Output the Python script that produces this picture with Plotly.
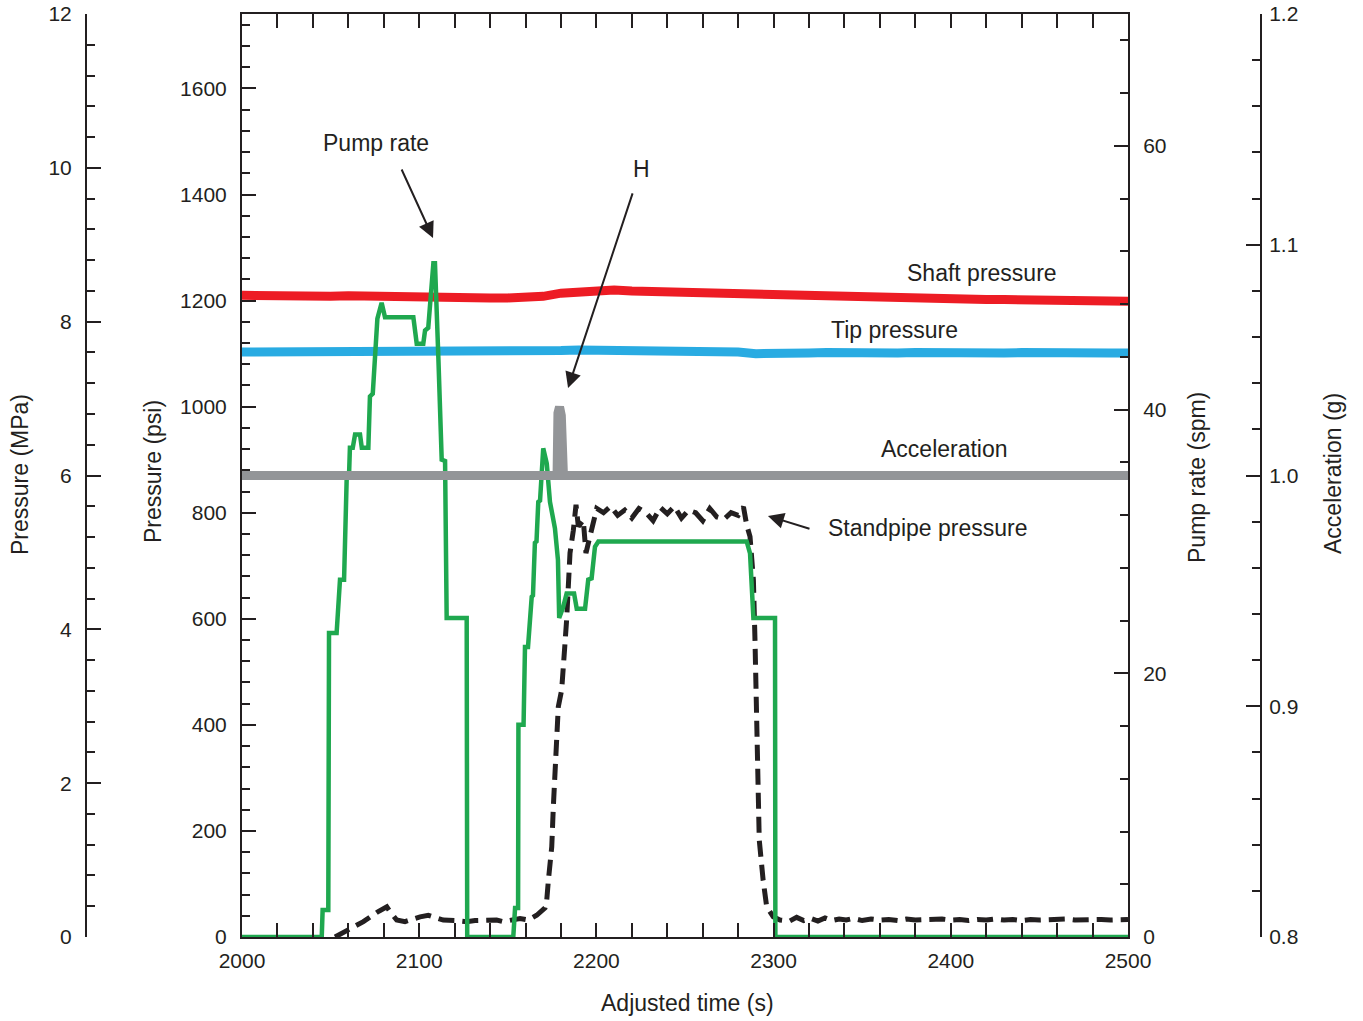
import plotly.graph_objects as go

# ---------------- data ----------------
# Shaft pressure (psi)
shaft_t = list(range(2000, 2501, 10))
shaft_psi = [1210, 1209, 1210, 1209, 1209, 1208, 1209, 1208, 1207, 1207,
             1206, 1206, 1205, 1205, 1205, 1205, 1206, 1208, 1214, 1217,
             1219, 1220, 1218, 1217, 1216, 1215, 1214, 1213, 1212, 1211,
             1210, 1209, 1209, 1208, 1207, 1207, 1206, 1205, 1205, 1204,
             1203, 1203, 1202, 1202, 1201, 1201, 1200, 1200, 1199, 1199, 1199]

# Tip pressure (psi)
tip_t = list(range(2000, 2501, 10))
tip_psi = [1103, 1103, 1102, 1103, 1103, 1102, 1103, 1103, 1102, 1103,
           1103, 1102, 1103, 1103, 1102, 1103, 1103, 1103, 1106, 1107,
           1107, 1106, 1106, 1105, 1105, 1104, 1104, 1103, 1103, 1100,
           1099, 1101, 1101, 1102, 1101, 1102, 1101, 1101, 1102, 1101,
           1101, 1102, 1101, 1101, 1102, 1101, 1101, 1102, 1101, 1101, 1101]

# Acceleration (g)
acc_t = [2000, 2177.8, 2178.3, 2179.2, 2180.2, 2181.4, 2500]
acc_g = [1.0, 1.0, 1.027, 1.0297, 1.026, 1.0, 1.0]

# Standpipe pressure (psi)
sp_t = [2052.5, 2060.9, 2068.5, 2076.9, 2081.7, 2083.5, 2087.3, 2092.0, 2096.7,
        2100.5, 2105.1, 2109.9, 2113.6, 2121.2, 2126.8, 2131.5, 2138.1, 2143.7,
        2147.5, 2152.4, 2156.9, 2161.6, 2166.3, 2171.0, 2172.0, 2172.9, 2173.8,
        2174.8, 2175.7, 2176.6, 2177.6, 2178.5, 2180.4, 2181.3, 2182.3, 2183.2,
        2184.1, 2185.1, 2187.0, 2188.5, 2189.8, 2192.6, 2194.1, 2195.4, 2198.2,
        2200.2, 2204, 2208, 2212, 2216, 2220, 2224, 2228, 2232, 2236, 2240, 2244,
        2248, 2252, 2256, 2260, 2264, 2268, 2272, 2276, 2280, 2283, 2284.8,
        2286.7, 2288.6, 2289.5, 2290.4, 2290.8, 2291.9, 2294.1, 2296.1, 2299.8,
        2303.6, 2309, 2313, 2317, 2321, 2325, 2329, 2333, 2337, 2341, 2345, 2350,
        2355, 2360, 2365, 2370, 2375, 2380, 2385, 2390, 2395, 2400, 2405, 2410,
        2415, 2420, 2425, 2430, 2435, 2440, 2445, 2450, 2455, 2460, 2465, 2470,
        2475, 2480, 2485, 2490, 2495, 2500]
sp_psi = [0, 16, 29, 48, 57, 48, 32, 29, 35,
          38, 41, 35, 32, 31, 29, 31, 32, 32,
          29, 31, 35, 32, 41, 55, 70, 107, 130,
          170, 246, 309, 371, 434, 466, 498, 555, 598,
          673, 724, 767, 815, 774, 786, 724, 743, 780,
          808, 800, 812, 795, 805, 790, 808, 800, 785, 810, 798, 812,
          790, 805, 800, 785, 808, 792, 788, 800, 795, 811, 777,
          755, 673, 560, 434, 309, 183, 107, 57, 38,
          32, 30, 37, 31, 35, 30, 36, 31, 34, 32, 35, 31,
          34, 32, 33, 31, 34, 32, 33, 32, 34, 32, 33, 31,
          33, 32, 34, 32, 33, 31, 33, 32, 33, 32, 34, 32,
          33, 32, 33, 32, 33, 33]

# Pump rate (spm)
pr_t = [2000, 2045.0, 2045.5, 2048.7, 2049.1, 2053.4, 2055.3, 2057.6, 2059.1,
        2060.4, 2060.9, 2062.5, 2063.8, 2066.6, 2067.6, 2071.3, 2072.2, 2073.8,
        2076.4, 2078.8, 2080.7, 2096.7, 2098.6, 2102.3, 2103.3, 2105.1, 2108.0,
        2108.9, 2110.8, 2112.7, 2114.6, 2115.5, 2126.8, 2127.1, 2153.1, 2154.1,
        2155.8, 2156.0, 2158.9, 2159.7, 2161.4, 2163.5, 2164.2, 2165.3, 2166.2,
        2167.2, 2168.2, 2169.1, 2170.0, 2172.0, 2173.8, 2176.6, 2178.3, 2179.0,
        2181.2, 2183.2, 2187.4, 2188.9, 2193.6, 2195.4, 2197.3, 2199.2, 2201.1,
        2284.8, 2286.7, 2288.6, 2300.8, 2301.0, 2500]
pr_spm = [0, 0, 2.05, 2.05, 23.05, 23.05, 27.1, 27.1, 34.9,
          35.0, 37.1, 37.1, 38.1, 38.1, 37.1, 37.1, 41.0, 41.2,
          46.9, 48.1, 47.0, 47.0, 45.0, 45.0, 46.0, 46.2, 51.1,
          51.1, 44.0, 36.2, 36.1, 24.2, 24.2, 0, 0, 2.2,
          2.2, 16.1, 16.1, 22.0, 22.0, 25.8, 25.9, 29.9, 30.0,
          33.0, 33.1, 35.9, 37.06, 35.9, 33.0, 31.0, 28.6, 24.2,
          25.0, 26.06, 26.06, 24.9, 24.9, 27.1, 27.2, 29.6, 30.0,
          30.0, 29.1, 24.2, 24.2, 0, 0]

# axis settings (values)
x_range = [2000, 2500]
psi_range = [0, 1740.45]
spm_range = [0, 70]
mpa_range = [0, 12]
g_range = [0.8, 1.2]

# ---------------- figure ----------------
INK = "#231F20"
FONT = "Arial, Liberation Sans, Helvetica, sans-serif"
W, H = 1363, 1021
X0, X1 = 242, 1128
Y0, Y1 = 14, 937

fig = go.Figure()
fig.add_trace(go.Scatter(x=shaft_t, y=shaft_psi, mode="lines",
                         line=dict(color="#ED1C24", width=9), yaxis="y"))
fig.add_trace(go.Scatter(x=tip_t, y=tip_psi, mode="lines",
                         line=dict(color="#29ABE2", width=9), yaxis="y"))
fig.add_trace(go.Scatter(x=acc_t, y=acc_g, mode="lines",
                         line=dict(color="#939598", width=9), yaxis="y4"))
fig.add_trace(go.Scatter(x=sp_t, y=sp_psi, mode="lines",
                         line=dict(color=INK, width=5, dash="16px,8px"), yaxis="y"))
fig.add_trace(go.Scatter(x=pr_t, y=pr_spm, mode="lines",
                         line=dict(color="#1FA84F", width=4.5), yaxis="y2"))
# dummy trace so MPa axis is drawn
fig.add_trace(go.Scatter(x=[None], y=[None], yaxis="y3", showlegend=False))

tickfont = dict(family=FONT, size=21, color=INK)
common = dict(showline=True, linecolor=INK, linewidth=2, ticks="inside",
              tickcolor=INK, tickwidth=2, ticklen=14, showgrid=False,
              zeroline=False, tickfont=tickfont, automargin=False)

def minor(d):
    return dict(ticks="inside", dtick=d, ticklen=8, tickwidth=2,
                tickcolor=INK, showgrid=False)

fig.update_layout(
    width=W, height=H,
    margin=dict(l=0, r=0, t=Y0, b=H - Y1, pad=0, autoexpand=False),
    paper_bgcolor="white", plot_bgcolor="white",
    showlegend=False,
    font=dict(family=FONT, color=INK, size=21),
    xaxis=dict(domain=[X0 / W, X1 / W], range=x_range, dtick=100,
               mirror="allticks", minor=minor(20), ticklabelstandoff=4,
               **common),
    yaxis=dict(range=psi_range, dtick=200, side="left", anchor="x",
               minor=minor(40), ticklabelstandoff=9, **common),
    yaxis2=dict(range=spm_range, dtick=20, side="right", anchor="x",
                overlaying="y", minor=minor(4), ticklabelstandoff=9,
                **common),
    yaxis3=dict(range=mpa_range, dtick=2, side="left", anchor="free",
                overlaying="y", position=86 / W, minor=minor(0.4),
                ticklabelstandoff=9, **common),
    yaxis4=dict(range=g_range, dtick=0.1, side="right", anchor="free",
                overlaying="y", position=1261 / W, tickformat=".1f",
                minor=minor(0.02), ticklabelstandoff=3, **common),
)

tfont = dict(family=FONT, size=23, color=INK)

def py(ypx):
    return (Y1 - ypx) / (Y1 - Y0)

titles = [
    ("Pressure (MPa)", 20, 475, -90),
    ("Pressure (psi)", 153, 472, -90),
    ("Pump rate (spm)", 1197, 478, -90),
    ("Acceleration (g)", 1333, 474, -90),
]
for txt, xp, yp, ang in titles:
    fig.add_annotation(text=txt, x=xp / W, y=py(yp), xref="paper", yref="paper",
                       showarrow=False, textangle=ang, font=tfont,
                       xanchor="center", yanchor="middle")
fig.add_annotation(text="Adjusted time (s)", x=688 / W, y=py(1003),
                   xref="paper", yref="paper", showarrow=False, font=tfont,
                   xanchor="center", yanchor="middle")

# in-plot labels (data coordinates: time, psi)
labels = [
    ("Pump rate", 2075.6, 1497),
    ("H", 2225.2, 1448),
    ("Shaft pressure", 2417.6, 1252),
    ("Tip pressure", 2368.5, 1145),
    ("Acceleration", 2396.2, 920),
    ("Standpipe pressure", 2387.1, 771),
]
for txt, xt, yt in labels:
    fig.add_annotation(text=txt, x=xt, y=yt, xref="x", yref="y",
                       showarrow=False, font=tfont,
                       xanchor="center", yanchor="middle")

arrows = [
    ((2089.7, 1450), (2107.8, 1318)),
    ((2220.7, 1405), (2184.0, 1035)),
    ((2321.1, 769), (2296.8, 794)),
]
for (tx, ty), (hx, hy) in arrows:
    fig.add_annotation(text="", x=hx, y=hy, ax=tx, ay=ty, xref="x", yref="y",
                       axref="x", ayref="y", showarrow=True, arrowhead=2,
                       arrowsize=1.6, arrowwidth=2, arrowcolor=INK, standoff=0)

fig.write_html("out.html")
